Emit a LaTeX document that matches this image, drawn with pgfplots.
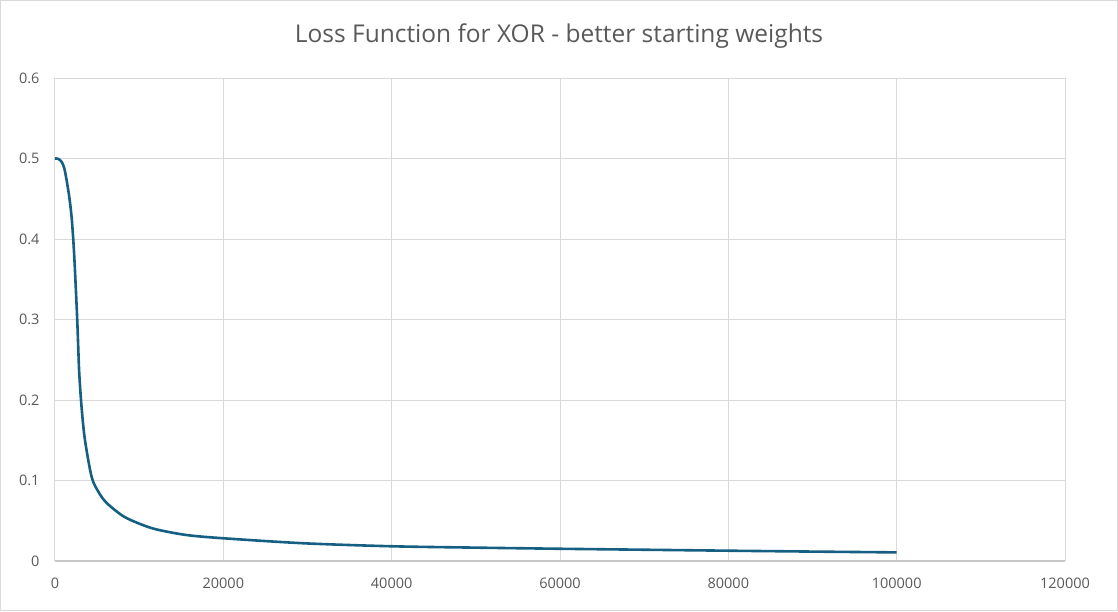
\documentclass[border=0pt]{standalone}
\usepackage{pgfplots}
\pgfplotsset{compat=1.18}
\usepackage{fontspec}
\setmainfont{Open Sans}
\definecolor{lineblue}{HTML}{156082}
\definecolor{gridgray}{HTML}{D9D9D9}
\definecolor{txtgray}{HTML}{595959}
\begin{document}
\begin{tikzpicture}[x=1pt,y=1pt]
\path[use as bounding box] (0,0) rectangle (1118,611);
\draw[gridgray, line width=1.2pt] (0.6,0.6) rectangle (1117.4,610.4);
\node[txtgray, font=\fontsize{24.5}{28}\selectfont] at (559,575) {Loss Function for XOR - better starting weights};
\begin{axis}[
  at={(55pt,50pt)}, anchor=origin,
  scale only axis, width=1010pt, height=483pt,
  xmin=0, xmax=120000, ymin=0, ymax=0.6,
  xtick={0,20000,...,120000}, ytick={0,0.1,...,0.6},
  scaled x ticks=false, scaled y ticks=false,
  xticklabel style={/pgf/number format/fixed, /pgf/number format/1000 sep={}},
  yticklabel style={/pgf/number format/fixed, /pgf/number format/precision=1},
  /pgf/number format/assume math mode=true,
  tick label style={txtgray, font=\fontsize{14.5}{17}\selectfont},
  xticklabel style={yshift=-13pt},
  yticklabel style={xshift=-12pt},
  major tick length=0pt,
  grid=major, major grid style={gridgray, line width=1pt},
  axis line style={draw=none},
  axis x line*=bottom, axis y line*=left,
  clip=false,
]
\draw[gridgray!80!gray, line width=1.2pt] (axis cs:0,0) -- (axis cs:120000,0);
\addplot[lineblue, line width=2.6pt, smooth, tension=0.5, no marks] coordinates {
(0,0.500) (400,0.4995) (800,0.4957) (1100,0.488) (1380,0.473) (1700,0.452) (1970,0.4275) (2170,0.3995)
(2330,0.370) (2480,0.337) (2640,0.300) (2760,0.266) (2880,0.2335) (3150,0.192) (3550,0.151)
(4340,0.105) (5100,0.087) (6110,0.0724) (8090,0.0558) (10000,0.0465) (12030,0.0393) (15970,0.0318)
(21880,0.0269) (30000,0.0218) (40000,0.0183) (50000,0.0166) (60000,0.0152) (70000,0.0140)
(80000,0.0128) (90000,0.0117) (100000,0.0107)
};
\end{axis}
\end{tikzpicture}
\end{document}
